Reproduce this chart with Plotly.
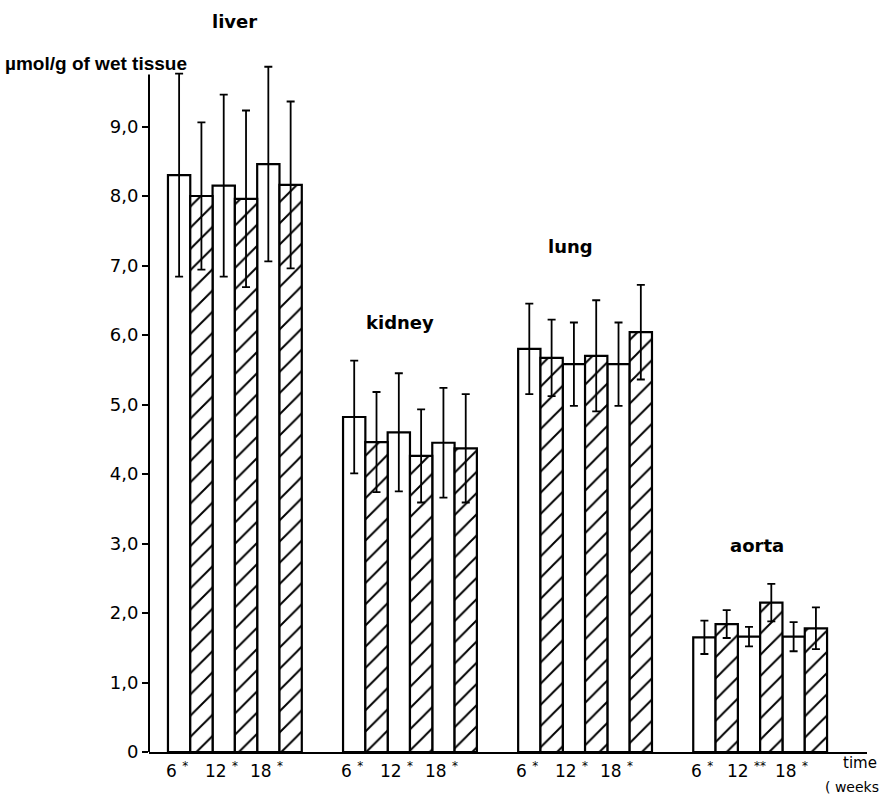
import plotly.graph_objects as go

# ---------------- data ----------------
organs = ["liver", "kidney", "lung", "aorta"]
weeks = ["6", "12", "18"]
marks = [["*", "*", "*"], ["*", "*", "*"], ["*", "*", "*"], ["*", "**", "*"]]

open_mean = [[8.30, 8.15, 8.46], [4.82, 4.60, 4.45], [5.80, 5.58, 5.58], [1.65, 1.66, 1.66]]
open_sd = [[1.46, 1.31, 1.40], [0.81, 0.85, 0.79], [0.65, 0.60, 0.60], [0.24, 0.14, 0.21]]
hatch_mean = [[8.00, 7.96, 8.16], [4.46, 4.26, 4.37], [5.67, 5.70, 6.04], [1.84, 2.15, 1.78]]
hatch_sd = [[1.06, 1.27, 1.20], [0.72, 0.67, 0.78], [0.55, 0.80, 0.68], [0.20, 0.27, 0.30]]

y_ticks = [0, 1, 2, 3, 4, 5, 6, 7, 8, 9]
y_ticktext = ["0", "1,0", "2,0", "3,0", "4,0", "5,0", "6,0", "7,0", "8,0", "9,0"]

# ---------------- layout helpers ----------------
group_step = 7.85  # bar widths between group starts
title_dx = [0.0, -0.45, -0.67, -0.13]
title_dy = [0.65, 0.55, 0.55, 0.55]
y_max = 10.0


def pos(g, t, k):
    return g * group_step + 2 * t + k + 0.5


ox, oy, oe, hx, hy, he = [], [], [], [], [], []
for g in range(len(organs)):
    for t in range(len(weeks)):
        ox.append(pos(g, t, 0)); oy.append(open_mean[g][t]); oe.append(open_sd[g][t])
        hx.append(pos(g, t, 1)); hy.append(hatch_mean[g][t]); he.append(hatch_sd[g][t])

font = "DejaVu Sans"
fig = go.Figure()
fig.add_trace(go.Bar(
    x=ox, y=oy, width=1.0,
    marker=dict(color="white", line=dict(color="black", width=2.2)),
    error_y=dict(type="data", array=oe, visible=True, color="black", thickness=1.8, width=4),
    showlegend=False,
))
fig.add_trace(go.Bar(
    x=hx, y=hy, width=1.0,
    marker=dict(color="white", line=dict(color="black", width=2.2),
                pattern=dict(shape="/", fgcolor="black", bgcolor="white", size=15, solidity=0.13,
                             fgopacity=1)),
    error_y=dict(type="data", array=he, visible=True, color="black", thickness=1.8, width=4),
    showlegend=False,
))

annotations = []
for g, organ in enumerate(organs):
    top = max(max(o + s for o, s in zip(open_mean[g], open_sd[g])),
              max(h + s for h, s in zip(hatch_mean[g], hatch_sd[g])))
    annotations.append(dict(x=g * group_step + 3 + title_dx[g], y=(top + title_dy[g]) / y_max,
                            xref="x", yref="paper", xanchor="center", yanchor="middle",
                            text="<b>%s</b>" % organ, showarrow=False,
                            font=dict(family=font, size=18, color="black")))
    for t, w in enumerate(weeks):
        annotations.append(dict(x=g * group_step + 2 * t + 0.4, y=-0.026, xref="x", yref="paper",
                                xanchor="center", yanchor="middle",
                                text="%s <sup>%s</sup>" % (w, marks[g][t]), showarrow=False,
                                font=dict(family=font, size=17, color="black")))

annotations += [
    dict(x=-0.204, y=0.991, xref="paper", yref="paper", xanchor="left", yanchor="middle",
         text="<b>µmol/g of wet tissue</b>", showarrow=False,
         font=dict(family="Liberation Sans", size=19, color="black")),
    dict(x=0.99, y=-0.016, xref="paper", yref="paper", xanchor="center", yanchor="middle",
         text="time", showarrow=False,
         font=dict(family=font, size=15, color="black")),
    dict(x=1.02, y=-0.051, xref="paper", yref="paper", xanchor="right", yanchor="middle",
         text="( weeks", showarrow=False,
         font=dict(family=font, size=14, color="black")),
]

fig.add_shape(type="line", xref="paper", yref="y", x0=0, x1=0, y0=0, y1=9.75,
              line=dict(color="black", width=2))

fig.update_layout(
    width=885, height=795,
    margin=dict(l=149, r=18, t=57, b=43),
    plot_bgcolor="white", paper_bgcolor="white",
    barmode="overlay",
    annotations=annotations,
    xaxis=dict(range=[-0.85, 31.34], showgrid=False, zeroline=False, showticklabels=False,
               ticks="", showline=True, linecolor="black", linewidth=2),
    yaxis=dict(range=[0, y_max], showgrid=False, zeroline=False, showline=False,
               tickvals=y_ticks, ticktext=y_ticktext, ticks="outside", ticklen=6,
               tickwidth=1.5, tickcolor="black",
               tickfont=dict(family=font, size=18, color="black")),
)

fig.write_html("out.html")
